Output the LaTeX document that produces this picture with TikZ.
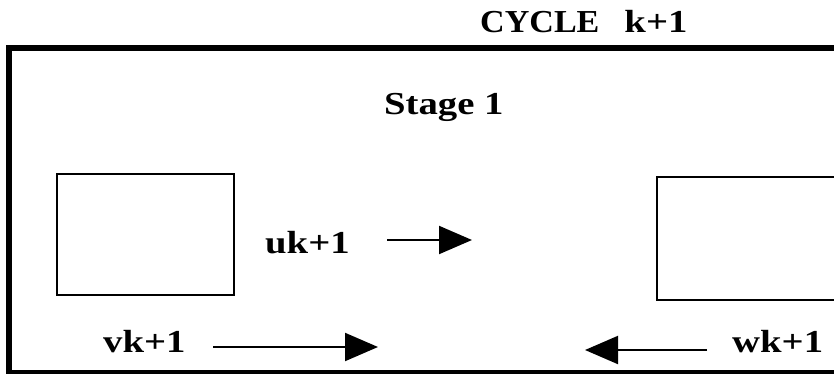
\documentclass[tikz,border=0pt]{standalone}
\usepackage{fontspec}
\setmainfont{Liberation Serif}[FakeStretch=1.21]
\usetikzlibrary{arrows.meta}
\tikzset{
  lbl/.style={anchor=base west, inner sep=0pt, font=\fontsize{32}{38}\selectfont\bfseries},
  blk/.style={draw, line width=1.5pt, minimum width=#1, minimum height=121pt, inner sep=0pt},
  flow/.style={line width=2pt, -{Triangle[length=33pt,width=28pt]}}
}
\begin{document}
\begin{tikzpicture}[x=1pt,y=-1pt]
\clip (0,0) rectangle (834,374);
\fill[white] (0,0) rectangle (834,374);
\draw[line width=6pt] (9,48.5) rectangle (860,373);
\node[lbl] (cycle) at (480,33) {\scalebox{0.88}[1]{CYCLE}\hspace{25pt}k+1};
\node[lbl] (stage) at (384,115) {Stage 1};
\node[blk=177pt] (left) at (145.5,234.5) {};
\node[blk=200pt, minimum height=123pt] (right) at (757,238.5) {};
\node[lbl] (u) at (265,253) {uk+1};
\node[lbl] (v) at (103,352) {vk+1};
\node[lbl] (w) at (732,352) {wk+1};
\coordinate (us) at (387,240);
\coordinate (ue) at (472,240);
\coordinate (vs) at (213,347);
\coordinate (ve) at (378,347);
\coordinate (ws) at (707,350);
\coordinate (we) at (585,350);
\draw[flow] (us) -- (ue);
\draw[flow] (vs) -- (ve);
\draw[flow] (ws) -- (we);
\end{tikzpicture}
\end{document}
